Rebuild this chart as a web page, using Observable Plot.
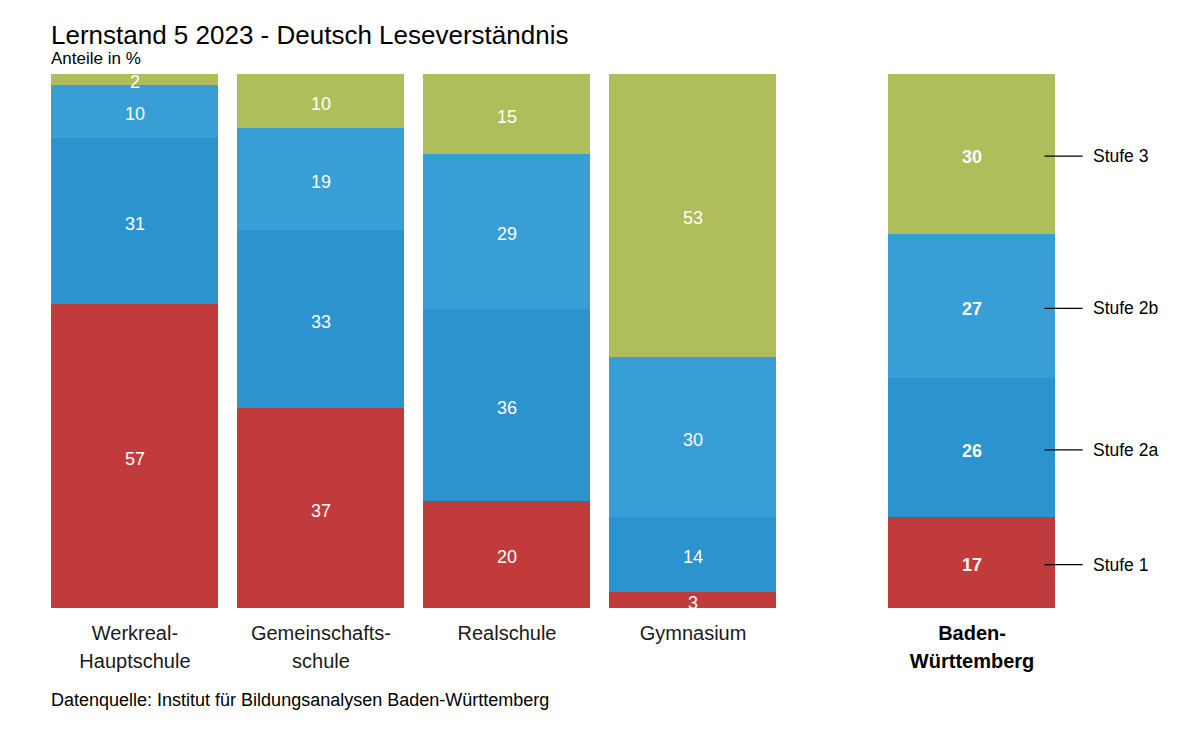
<!DOCTYPE html>
<html>
<head>
<meta charset="utf-8">
<script src="https://cdn.jsdelivr.net/npm/d3@7"></script>
<script src="https://cdn.jsdelivr.net/npm/@observablehq/plot@0.6"></script>
<style>
  html, body { margin: 0; padding: 0; background: #fff; }
  body { width: 1195px; height: 736px; position: relative; font-family: "Liberation Sans", Arial, sans-serif; color: #000; overflow: hidden; }
  .abs { position: absolute; left: 51px; line-height: 1; white-space: nowrap; }
  #title { top: 22px; font-size: 26px; }
  #subtitle { top: 49.8px; font-size: 17px; }
  #caption { top: 690.8px; font-size: 18px; }
  #chart { position: absolute; left: 0; top: 66px; }
</style>
</head>
<body>
<div id="title" class="abs">Lernstand 5 2023 - Deutsch Leseverständnis</div>
<div id="subtitle" class="abs">Anteile in %</div>
<div id="chart"></div>
<div id="caption" class="abs">Datenquelle: Institut für Bildungsanalysen Baden-Württemberg</div>
<script>
const schools = ["Werkreal-\nHauptschule", "Gemeinschafts-\nschule", "Realschule", "Gymnasium", "Baden-\nWürttemberg"];
const levels = ["Stufe 1", "Stufe 2a", "Stufe 2b", "Stufe 3"];
const stufe1  = [57, 37, 20, 3, 17];
const stufe2a = [31, 33, 36, 14, 26];
const stufe2b = [10, 19, 29, 30, 27];
const stufe3  = [2, 10, 15, 53, 30];
const colors = ["#c23b3c", "#2b93ce", "#389ed6", "#afbd5a"];

const series = [stufe1, stufe2a, stufe2b, stufe3];
const totalIdx = schools.length - 1;
const slot = i => (i < totalIdx ? i : i + 0.5);
const half = 0.4485;

const rows = schools.flatMap((s, i) =>
  levels.map((l, j) => ({school: s, pos: slot(i), level: l, value: series[j][i], total: i === totalIdx}))
);
const cats = schools.map((s, i) => ({school: s, pos: slot(i), total: i === totalIdx}));

// midpoints of the total bar's segments for the legend labels
const bwSum = d3.sum(series, s => s[totalIdx]);
let acc = 0;
const bwLabels = levels.map((l, j) => {
  const v = series[j][totalIdx];
  const mid = (acc + v / 2) / bwSum;
  acc += v;
  return {level: l, mid};
});
const bwPos = slot(totalIdx);

const chart = Plot.plot({
  width: 1195,
  height: 624,
  marginTop: 8,
  marginBottom: 82,
  marginLeft: 51,
  marginRight: 140,
  x: {type: "linear", domain: [-half, bwPos + half], axis: null},
  y: {domain: [0, 1], axis: null},
  color: {domain: levels, range: colors},
  style: {fontFamily: "Liberation Sans, Arial, sans-serif", background: "transparent", overflow: "visible"},
  marks: [
    Plot.rectY(rows, Plot.stackY({
      x1: d => d.pos - half, x2: d => d.pos + half, y: "value", fill: "level", offset: "normalize", shapeRendering: "crispEdges"
    })),
    Plot.text(rows.filter(d => !d.total), Plot.stackY({
      x: "pos", y: "value", text: d => String(d.value), offset: "normalize", fill: "white", fontSize: 18, dy: 2.5
    })),
    Plot.text(rows.filter(d => d.total), Plot.stackY({
      x: "pos", y: "value", text: d => String(d.value), offset: "normalize", fill: "white", fontSize: 18, fontWeight: "bold", dy: 2.5
    })),
    Plot.text(cats.filter(d => !d.total), {
      x: "pos", y: () => 0, text: "school", lineAnchor: "top", dy: 12, fontSize: 20, lineHeight: 1.4, fill: "#1a1a1a"
    }),
    Plot.text(cats.filter(d => d.total), {
      x: "pos", y: () => 0, text: "school", lineAnchor: "top", dy: 12, fontSize: 20, lineHeight: 1.4, fill: "#000", fontWeight: "bold"
    }),
    Plot.ruleY(bwLabels, {y: "mid", x1: bwPos + 0.392, x2: bwPos + 0.597, stroke: "#000", strokeWidth: 1.2, dy: 1.5}),
    Plot.text(bwLabels, {y: "mid", x: bwPos + 0.65, text: "level", textAnchor: "start", fontSize: 17.5, fill: "#000", dy: 2})
  ]
});
document.getElementById("chart").appendChild(chart);
</script>
</body>
</html>
